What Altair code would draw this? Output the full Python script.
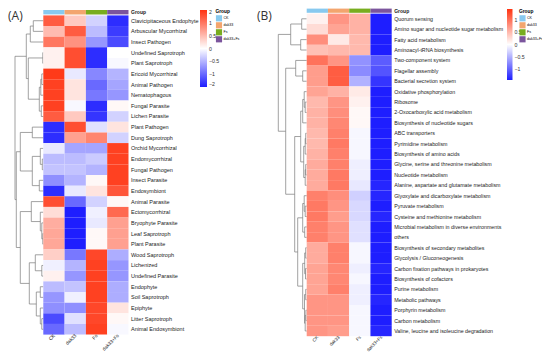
import altair as alt
import pandas as pd

groups = ["CK", "dak33", "Fs", "dak33+Fs"]
group_colors = ["#88C9EF", "#F3A56E", "#78AD1F", "#7B559D"]
heat_colors = ["#1E1EFF", "#FFFFFF", "#FF3311"]

# ---------------- Panel A: fungal guilds ----------------
fungi_rows = [
    "Clavicipitaceous Endophyte", "Arbuscular Mycorrhizal", "Insect Pathogen",
    "Undefined Saprotroph", "Plant Saprotroph", "Ericoid Mycorrhizal",
    "Animal Pathogen", "Nematophagous", "Fungal Parasite", "Lichen Parasite",
    "Plant Pathogen", "Dung Saprotroph", "Orchid Mycorrhizal", "Endomycorrhizal",
    "Fungal Pathogen", "Insect Parasite", "Endosymbiont", "Animal Parasite",
    "Ectomycorrhizal", "Bryophyte Parasite", "Leaf Saprotroph", "Plant Parasite",
    "Wood Saprotroph", "Lichenized", "Undefined Parasite", "Endophyte",
    "Soil Saprotroph", "Epiphyte", "Litter Saprotroph", "Animal Endosymbiont",
]
fungi_ck = [1.2, 0.5, 1.0, 0.1, 0.1, 1.45, 1.4, 1.4, 1.4, 1.2,
            -1.4, -1.4, -0.15, -0.45, -0.4, -0.75, -1.4, 1.3, 0.25, 0.6,
            0.65, 0.65, 0.35, -0.1, 0.1, -0.45, -0.7, -0.75, -1.2, -1.0]
fungi_dak33 = [0.4, 1.2, 0.8, 1.3, 1.3, -0.15, 0.2, 0.2, -0.05, 0.4,
               1.3, 0.7, -0.6, -0.45, -0.4, -0.5, -0.15, -1.0, -1.5, -1.5,
               -1.5, -1.5, -0.9, -0.5, -0.7, -0.4, -0.1, -0.75, -0.2, -0.45]
fungi_fs = [-0.3, -0.45, -0.7, -1.4, -1.4, -0.8, -1.0, -0.9, -1.4, -1.35,
            -0.2, 0.9, -0.6, -0.35, -0.5, 0.05, 0.2, -0.3, -0.1, -0.15,
            0.05, 0.05, 1.35, 1.4, 1.4, 1.4, 1.4, 1.35, 1.35, 1.4]
fungi_dakfs = [-1.4, -1.3, -1.2, 0.0, -0.05, -0.5, -0.6, -0.7, 0.05, -0.3,
               0.2, -0.3, 1.4, 1.4, 1.4, 1.4, 1.25, 0.05, 1.1, 0.7,
               0.7, 0.7, -0.55, -0.7, -0.7, -0.55, -0.55, 0.2, 0.05, -0.05]

# row dendrogram: (left, right, merge height); leaves are row indices
fungi_tree = (
    (((0, 1, 10), 2, 13), ((3, 4, 0.5), (((5, 6, 1.5), 7, 2.5), (8, 9, 2), 4), 15), 17),
    (((10, 11, 11), ((12, (13, 14, 1), 3), (15, 16, 4), 11), 23),
     ((17, (18, (19, (20, 21, 0.5), 1.5), 3), 12),
      ((22, (23, 24, 1.5), 8), ((25, 26, 3), (27, (28, 29, 1.5), 3), 7), 14), 23), 27),
    28.3,
)

# ---------------- Panel B: KEGG pathways ----------------
kegg_rows = [
    "Quorum sensing", "Amino sugar and nucleotide sugar metabolism", "Fatty acid metabolism",
    "Aminoacyl-tRNA biosynthesis", "Two-component system", "Flagellar assembly",
    "Bacterial secretion system", "Oxidative phosphorylation", "Ribosome",
    "2-Oxocarboxylic acid metabolism", "Biosynthesis of nucleotide sugars", "ABC transporters",
    "Pyrimidine metabolism", "Biosynthesis of amino acids", "Glycine, serine and threonine metabolism",
    "Nucleotide metabolism", "Alanine, aspartate and glutamate metabolism",
    "Glyoxylate and dicarboxylate metabolism", "Pyruvate metabolism",
    "Cysteine and methionine metabolism", "Microbial metabolism in diverse environments", "others",
    "Biosynthesis of secondary metabolites", "Glycolysis / Gluconeogenesis",
    "Carbon fixation pathways in prokaryotes", "Biosynthesis of cofactors", "Purine metabolism",
    "Metabolic pathways", "Porphyrin metabolism", "Carbon metabolism",
    "Valine, leucine and isoleucine degradation",
]
kegg_ck = [0.1, 0.25, 0.8, 0.45, 1.0, 0.7, 0.7, 0.65, 0.5, 0.55, 0.55, 0.5, 0.5, 0.55, 0.6, 0.6,
           0.6, 0.9, 0.95, 0.95, 0.9, 0.9, 0.6, 0.6, 0.65, 0.65, 0.65, 0.75, 0.75, 0.75, 0.75]
kegg_dak33 = [0.75, 0.65, 0.15, 0.5, 0.75, 1.15, 1.15, 0.55, 0.75, 0.8, 0.85, 0.9, 0.95, 0.9, 0.9, 0.95,
              0.95, 0.8, 0.75, 0.7, 0.75, 0.75, 0.9, 0.9, 0.85, 0.85, 0.9, 0.75, 0.75, 0.75, 0.7]
kegg_fs = [0.55, 0.55, 0.5, 0.5, -0.7, -0.75, -0.5, 0.15, 0.1, 0.05, 0.05, -0.05, -0.05, -0.05, -0.1, -0.1,
           -0.15, -0.3, -0.25, -0.25, -0.2, -0.2, -0.05, -0.05, -0.1, -0.05, -0.1, -0.1, -0.05, -0.05, -0.05]
kegg_dakfs = [-1.45, -1.45, -1.45, -1.45, -1.05, -1.1, -1.3, -1.45, -1.45, -1.45, -1.45, -1.45, -1.45, -1.45,
              -1.45, -1.45, -1.4, -1.4, -1.45, -1.4, -1.45, -1.45, -1.45, -1.45, -1.4, -1.45, -1.45, -1.4,
              -1.45, -1.45, -1.4]

kegg_tree = (
    ((0, 1, 5), (2, 3, 6), 16),
    ((4, (5, 6, 4), 11),
     ((((7, (8, 9, 1.5), 2.5), 10, 4), (((11, 12, 1), 13, 1.5), ((14, 15, 1), 16, 1.5), 3), 6),
      (((17, (18, 19, 1.5), 2.5), (20, 21, 2), 4),
       (((22, 23, 1), (24, 25, 1.2), 2), ((26, 27, 1), ((28, 29, 0.8), 30, 1.5), 2.2), 4), 9), 12),
     21),
    28.4,
)

FONT = "Liberation Sans"
W, H = 534, 344


def long_table(rows, cols):
    recs = []
    for i, r in enumerate(rows):
        for g, vals in zip(groups, cols):
            recs.append({"row": r, "group": g, "value": float(vals[i])})
    return pd.DataFrame(recs)


def dendro_segments(tree):
    horiz, vert = [], []

    def walk(node):
        if isinstance(node, int):
            return node + 0.5, 0.0
        left, right, h = node
        yl, hl = walk(left)
        yr, hr = walk(right)
        horiz.append({"ha": float(hl), "hb": float(h), "yy": float(yl)})
        horiz.append({"ha": float(hr), "hb": float(h), "yy": float(yr)})
        vert.append({"hh": float(h), "ya": float(yl), "yb": float(yr)})
        return (yl + yr) / 2, h

    walk(tree)
    return pd.DataFrame(horiz), pd.DataFrame(vert)


def panel(tag, rows, cols, tree, lay):
    n = len(rows)
    df = long_table(rows, cols)
    gdf = pd.DataFrame({"group": groups})
    xband = alt.Scale(type="band", domain=groups, range=[lay["hx0"], lay["hx1"]],
                      paddingInner=0, paddingOuter=0)
    yband = alt.Scale(type="band", domain=rows, range=[lay["hy0"], lay["hy1"]],
                      paddingInner=0, paddingOuter=0)

    heat = alt.Chart(df).mark_rect(strokeWidth=0).encode(
        x=alt.X("group:N", scale=xband, axis=None),
        y=alt.Y("row:N", scale=yband, axis=None),
        color=alt.Color(
            "value:Q",
            scale=alt.Scale(domain=[-lay["cmax"], lay["cmax"]], domainMid=0, nice=False,
                            range=heat_colors, interpolate="rgb"),
            legend=alt.Legend(
                orient="none", legendX=lay["gx"], legendY=lay["gy"], direction="vertical",
                gradientLength=lay["glen"], gradientThickness=lay["gthick"],
                gradientStrokeWidth=0, labelFontSize=5.2, labelFont=FONT,
                labelColor="#333333", labelOffset=2, labelOverlap=False,
                values=lay["gvals"], format="~g", title=None,
            ),
        ),
    )

    gbar = alt.Chart(gdf).mark_rect(strokeWidth=0).encode(
        x=alt.X("group:N", scale=xband, axis=None),
        y=alt.value(lay["by0"]), y2=alt.value(lay["by1"]),
        color=alt.Color(
            "group:N", scale=alt.Scale(domain=groups, range=group_colors),
            legend=alt.Legend(
                orient="none", legendX=lay["sx"], legendY=lay["sy"], title="Group",
                titleFontSize=4.8, titleFont=FONT, titleFontWeight="bold", titlePadding=1,
                symbolType="square", symbolSize=38, symbolStrokeWidth=0, symbolOpacity=1,
                labelFontSize=3.6, labelFont=FONT, labelOffset=1, rowPadding=0,
            ),
        ),
    )

    hseg, vseg = dendro_segments(tree)
    hmax = float(vseg["hh"].max())
    xs = alt.Scale(domain=[0, hmax], range=[lay["hx0"], lay["rootx"]], nice=False, zero=False)
    ys = alt.Scale(domain=[0, n], range=[lay["hy0"], lay["hy1"]], nice=False, zero=False)
    dend_h = alt.Chart(hseg).mark_rule(color="#7a7a7a", strokeWidth=0.7).encode(
        x=alt.X("ha:Q", scale=xs, axis=None),
        x2=alt.X2("hb"),
        y=alt.Y("yy:Q", scale=ys, axis=None),
    )
    dend_v = alt.Chart(vseg).mark_rule(color="#7a7a7a", strokeWidth=0.7).encode(
        x=alt.X("hh:Q", scale=xs, axis=None),
        y=alt.Y("ya:Q", scale=ys, axis=None),
        y2=alt.Y2("yb"),
    )

    rlab = alt.Chart(pd.DataFrame({"row": rows})).mark_text(
        align="left", baseline="middle", fontSize=lay["rfont"], font=FONT, color="#222222"
    ).encode(
        y=alt.Y("row:N", scale=yband, axis=None),
        x=alt.value(lay["hx1"] + 2.5),
        text="row:N",
    )

    clab = alt.Chart(gdf).mark_text(
        align="right", baseline="middle", angle=315, fontSize=lay["cfont"], font=FONT,
        color="#222222", dx=1
    ).encode(
        x=alt.X("group:N", scale=xband, axis=None),
        y=alt.value(lay["hy1"] + 1.5),
        text="group:N",
    )

    glab = alt.Chart(pd.DataFrame({"t": ["Group"]})).mark_text(
        align="left", baseline="middle", fontSize=5, font=FONT, fontWeight="bold", color="#222222"
    ).encode(
        x=alt.value(lay["hx1"] + 2.5),
        y=alt.value((lay["by0"] + lay["by1"]) / 2),
        text="t:N",
    )

    tlab = alt.Chart(pd.DataFrame({"t": [tag]})).mark_text(
        align="left", baseline="middle", fontSize=12, font="Open Sans", color="#333333"
    ).encode(
        x=alt.value(lay["tx"]), y=alt.value(lay["ty"]), text="t:N",
    )
    return [dend_h, dend_v, heat, gbar, rlab, clab, glab, tlab]


lay_a = dict(hx0=35.3, hx1=120.5, hy0=7.4, hy1=326.6, by0=2.0, by1=6.4, rootx=7.0,
             cmax=1.5, gx=192, gy=2, glen=77, gthick=7, cfont=4.8, rfont=5.5,
             gvals=[1.5, 1, 0.5, 0, -0.5, -1, -1.5], sx=207.5, sy=1, tx=0, ty=8)
lay_b = dict(hx0=298.7, hx1=383.7, hy0=5.6, hy1=328.2, by0=0.6, by1=4.8, rootx=270.3,
             cmax=1.45, gx=499, gy=1, glen=71, gthick=5.5, cfont=4.5, rfont=5.3,
             gvals=[1, 0.5, 0, -0.5, -1], sx=511, sy=1, tx=249, ty=8)

layers = panel("(A)", fungi_rows, [fungi_ck, fungi_dak33, fungi_fs, fungi_dakfs], fungi_tree, lay_a) + \
    panel("(B)", kegg_rows, [kegg_ck, kegg_dak33, kegg_fs, kegg_dakfs], kegg_tree, lay_b)

chart = alt.layer(*layers).resolve_scale(
    x="independent", y="independent", color="independent"
).properties(
    width=W, height=H, autosize=alt.AutoSizeParams(type="none"), padding=0
).configure_view(stroke=None)

chart.save("out.html", embed_options={"renderer": "svg", "actions": False})
